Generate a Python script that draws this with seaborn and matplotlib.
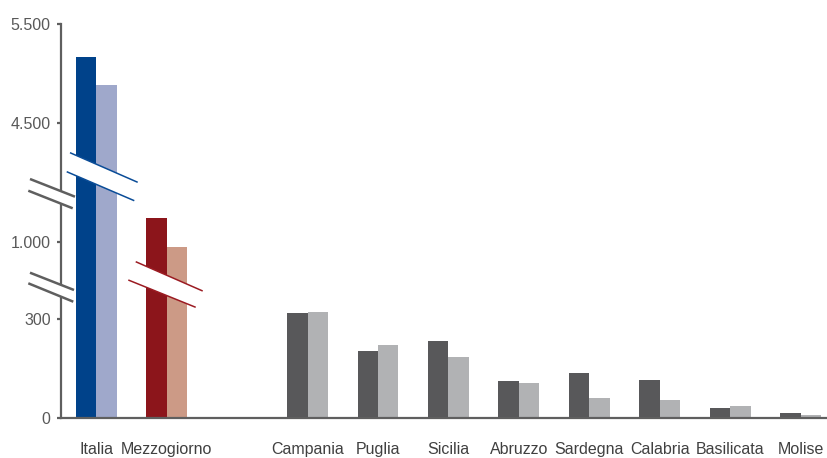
import numpy as np
import pandas as pd
import matplotlib
matplotlib.use("Agg")
from matplotlib import pyplot as plt
from matplotlib.patches import Polygon
from matplotlib.lines import Line2D
import seaborn as sns

# dati
categories = ["Italia", "Mezzogiorno", " ", "Campania", "Puglia", "Sicilia", "Abruzzo",
              "Sardegna", "Calabria", "Basilicata", "Molise"]
series = ["serie 1", "serie 2"]
values_1 = [5166, 1246, np.nan, 319, 204, 235, 113, 137, 116, 31, 16]
values_2 = [4882, 952, np.nan, 322, 222, 186, 107, 62, 56, 37, 10]
y_ticks = [0, 300, 1000, 4500, 5500]
y_tick_labels = ["0", "300", "1.000", "4.500", "5.500"]

groups = [
    (["Italia"], ["#00428A", "#9FA8CB"]),
    (["Mezzogiorno"], ["#8C151B", "#CC9A86"]),
    (categories[3:], ["#58585A", "#B1B2B4"]),
]

# asse y spezzato: tratti lineari con salti
scale_data = [0, 400, 800, 1400, 3700, 5500]
scale_pos = [0, 132, 156.3, 215.5, 216.6, 394.3]


def fwd(v):
    return np.interp(v, scale_data, scale_pos)


def inv(p):
    return np.interp(p, scale_pos, scale_data)


df = pd.DataFrame({
    "area": categories * 2,
    "serie": [series[0]] * len(categories) + [series[1]] * len(categories),
    "valore": values_1 + values_2,
}).dropna()

sns.set_theme(style="white")
plt.rcParams["font.family"] = ["Liberation Sans", "DejaVu Sans"]

W, H = 828, 458
fig = plt.figure(figsize=(W / 100, H / 100), dpi=100)
ax = fig.add_axes([61 / W, (H - 418.3) / H, 1 - 61 / W, (418.3 - 24) / H])

for names, pal in groups:
    sub = df[df["area"].isin(names)]
    sns.barplot(data=sub, x="area", y="valore", hue="serie", order=categories,
                hue_order=series, palette=pal, width=0.58, saturation=1,
                linewidth=0, legend=False, ax=ax)

ax.set_yscale("function", functions=(fwd, inv))
ax.set_ylim(0, 5500)
ax.set_xlim(-0.5, 10.39)
ax.set_yticks(y_ticks, y_tick_labels)
ax.set_xticks(range(len(categories)), categories)
ax.set_xticks(np.arange(-0.5, 10, 1), minor=True)
ax.set_xlabel("")
ax.set_ylabel("")

grey = "#5F5F5F"
for side in ["top", "right"]:
    ax.spines[side].set_visible(False)
for side in ["left", "bottom"]:
    ax.spines[side].set_color(grey)
    ax.spines[side].set_linewidth(1.6)

ax.tick_params(axis="x", which="major", length=0, pad=17, labelsize=11.5, labelcolor="#404040")
ax.tick_params(axis="x", which="minor", length=3, width=1.6, color=grey, direction="out")
ax.tick_params(axis="y", length=3, width=1.6, color=grey, direction="out", pad=4.5,
               labelsize=11.5, labelcolor="#595959", left=True)


def px(x, y):
    return (x / W, 1 - y / H)


def draw_break(top, bottom, color, lw):
    (x1, y1), (x2, y2) = top
    (x3, y3), (x4, y4) = bottom
    poly = Polygon([px(x1, y1), px(x2, y2), px(x4, y4), px(x3, y3)], closed=True,
                   facecolor="white", edgecolor="none", transform=fig.transFigure, zorder=5)
    fig.add_artist(poly)
    for (a, b), (c, d) in (top, bottom):
        (fa, fb), (fc, fd) = px(a, b), px(c, d)
        fig.add_artist(Line2D([fa, fc], [fb, fd], color=color, lw=lw,
                              transform=fig.transFigure, zorder=6, solid_capstyle="butt"))


# interruzioni dell'asse e delle barre
draw_break(((30, 179), (75, 196.7)), ((28.3, 190.7), (72.7, 208.3)), grey, 1.8)
draw_break(((30, 272.7), (74, 290)), ((28.3, 283.3), (73.3, 301.7)), grey, 1.8)
draw_break(((70, 152.7), (137.7, 182.3)), ((66.7, 171.7), (134.3, 200.7)), "#0A4C97", 1.1)
draw_break(((135.7, 261.7), (202.7, 291)), ((128.3, 280), (195.7, 307.3)), "#9B1B22", 1.1)

fig.savefig("out.png", dpi=100)
